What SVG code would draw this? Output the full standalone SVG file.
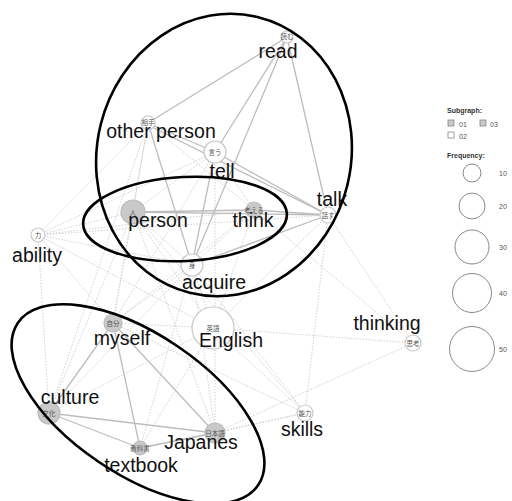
<svg xmlns="http://www.w3.org/2000/svg" width="512" height="501" viewBox="0 0 512 501">
<style>
.s{stroke:#bdbdbd;stroke-width:1.3;fill:none}
.d{stroke:#d2d2d2;stroke-width:1;stroke-dasharray:1.5 1.5;fill:none}
.nw{fill:#fff;stroke:#c8c8c8;stroke-width:1.2}
.ng{fill:#c9c9c9;stroke:#bcbcbc;stroke-width:1.2}
.jp{font-family:"Noto Sans CJK JP",sans-serif;font-size:6.5px;fill:#555;text-anchor:middle}
.lb{font-family:"Liberation Sans",Arial,sans-serif;font-size:19.5px;fill:#111;text-anchor:middle}
.lg{font-family:"Liberation Sans",Arial,sans-serif;font-size:7px;fill:#555}
.lgb{font-family:"Liberation Sans",Arial,sans-serif;font-size:7px;font-weight:bold;fill:#333}
.lc{fill:#fff;stroke:#888;stroke-width:1}
.el{fill:none;stroke:#000;stroke-width:2.6}
</style>
<rect width="512" height="501" fill="#fff"/>
<g id="connectors">
<line class="d" x1="38" y1="235" x2="148" y2="123"/>
<line class="d" x1="38" y1="235" x2="215" y2="152"/>
<line class="d" x1="38" y1="235" x2="133" y2="212"/>
<line class="d" x1="38" y1="235" x2="254" y2="210"/>
<line class="d" x1="38" y1="235" x2="328" y2="215"/>
<line class="d" x1="38" y1="235" x2="192" y2="265"/>
<line class="d" x1="38" y1="235" x2="213" y2="328"/>
<line class="d" x1="38" y1="235" x2="113" y2="323"/>
<line class="d" x1="38" y1="235" x2="49" y2="413"/>
<line class="d" x1="213" y1="328" x2="192" y2="265"/>
<line class="d" x1="213" y1="328" x2="133" y2="212"/>
<line class="d" x1="213" y1="328" x2="254" y2="210"/>
<line class="d" x1="213" y1="328" x2="328" y2="215"/>
<line class="d" x1="215" y1="152" x2="215" y2="433"/>
<line class="d" x1="213" y1="328" x2="305" y2="413"/>
<line class="d" x1="213" y1="328" x2="413" y2="343"/>
<line class="d" x1="213" y1="328" x2="113" y2="323"/>
<line class="d" x1="213" y1="328" x2="49" y2="413"/>
<line class="d" x1="213" y1="328" x2="140" y2="448"/>
<line class="d" x1="413" y1="343" x2="254" y2="210"/>
<line class="d" x1="413" y1="343" x2="328" y2="215"/>
<line class="d" x1="413" y1="343" x2="215" y2="433"/>
<line class="d" x1="305" y1="413" x2="192" y2="265"/>
<line class="d" x1="305" y1="413" x2="215" y2="433"/>
<line class="d" x1="305" y1="413" x2="113" y2="323"/>
<line class="d" x1="305" y1="413" x2="328" y2="215"/>
<line class="d" x1="305" y1="413" x2="133" y2="212"/>
<line class="d" x1="305" y1="413" x2="140" y2="448"/>
<line class="d" x1="113" y1="323" x2="192" y2="265"/>
<line class="d" x1="113" y1="323" x2="133" y2="212"/>
<line class="d" x1="113" y1="323" x2="215" y2="152"/>
<line class="d" x1="113" y1="323" x2="148" y2="123"/>
<line class="d" x1="113" y1="323" x2="254" y2="210"/>
<line class="d" x1="49" y1="413" x2="133" y2="212"/>
<line class="d" x1="49" y1="413" x2="192" y2="265"/>
<line class="d" x1="49" y1="413" x2="148" y2="123"/>
<line class="d" x1="140" y1="448" x2="192" y2="265"/>
<line class="d" x1="215" y1="433" x2="192" y2="265"/>
<line class="d" x1="215" y1="433" x2="133" y2="212"/>
<line class="d" x1="133" y1="212" x2="192" y2="265"/>
<line class="d" x1="133" y1="212" x2="215" y2="152"/>
<line class="d" x1="133" y1="212" x2="148" y2="123"/>
<line class="d" x1="148" y1="123" x2="254" y2="210"/>
<line class="d" x1="192" y1="265" x2="254" y2="210"/>
<line class="d" x1="215" y1="152" x2="254" y2="210"/>
<line class="s" x1="287" y1="37" x2="148" y2="123"/>
<line class="s" x1="287" y1="37" x2="215" y2="152"/>
<line class="s" x1="287" y1="37" x2="192" y2="265"/>
<line class="s" x1="287" y1="37" x2="328" y2="215"/>
<line class="s" x1="148" y1="123" x2="215" y2="152"/>
<line class="s" x1="148" y1="125" x2="328" y2="215"/>
<line class="s" x1="215" y1="152" x2="328" y2="215"/>
<line class="s" x1="148" y1="123" x2="192" y2="265"/>
<line class="s" x1="215" y1="152" x2="192" y2="265"/>
<line class="s" x1="133" y1="212" x2="254" y2="210"/>
<line class="s" x1="133" y1="212" x2="328" y2="215"/>
<line class="s" x1="254" y1="210" x2="328" y2="215"/>
<line class="s" x1="192" y1="265" x2="328" y2="215"/>
<line class="s" x1="113" y1="323" x2="49" y2="413"/>
<line class="s" x1="113" y1="323" x2="140" y2="448"/>
<line class="s" x1="113" y1="323" x2="215" y2="433"/>
<line class="s" x1="49" y1="413" x2="140" y2="448"/>
<line class="s" x1="49" y1="413" x2="215" y2="433"/>
<line class="s" x1="140" y1="448" x2="215" y2="433"/>
</g>
<g id="n-read"><circle class="nw" cx="287" cy="37" r="6"/><text class="jp" x="287" y="39">読む</text><text class="lb" x="278" y="58">read</text></g>
<g id="n-other"><circle class="nw" cx="148" cy="123" r="7"/><text class="jp" x="148" y="125">相手</text><text class="lb" x="161" y="138">other person</text></g>
<g id="n-tell"><circle class="nw" cx="215" cy="152" r="11"/><text class="jp" x="215" y="155">言う</text><text class="lb" x="222" y="178">tell</text></g>
<g id="n-person"><circle class="ng" cx="133" cy="212" r="12"/><text class="jp" x="133" y="215">人</text><text class="lb" x="158" y="227">person</text></g>
<g id="n-think"><circle class="ng" cx="254" cy="210" r="8"/><text class="jp" x="254" y="213">考える</text><text class="lb" x="253" y="227">think</text></g>
<g id="n-talk"><circle class="nw" cx="328" cy="215" r="8"/><text class="jp" x="328" y="218">話す</text><text class="lb" x="332" y="206">talk</text></g>
<g id="n-ability"><circle class="nw" cx="38" cy="235" r="7"/><text class="jp" x="38" y="238">力</text><text class="lb" x="37" y="262">ability</text></g>
<g id="n-acquire"><circle class="nw" cx="192" cy="265" r="11"/><text class="jp" x="192" y="268">身</text><text class="lb" x="214" y="289">acquire</text></g>
<g id="n-myself"><circle class="ng" cx="113" cy="323" r="9"/><text class="jp" x="113" y="326">自分</text><text class="lb" x="122" y="345">myself</text></g>
<g id="n-english"><circle class="nw" cx="213" cy="328" r="21"/><text class="jp" x="213" y="331">英語</text><text class="lb" x="231" y="347">English</text></g>
<g id="n-thinking"><circle class="nw" cx="413" cy="343" r="8"/><text class="jp" x="413" y="346">思考</text><text class="lb" x="387" y="330">thinking</text></g>
<g id="n-culture"><circle class="ng" cx="49" cy="413" r="11"/><text class="jp" x="49" y="416">文化</text><text class="lb" x="70" y="404">culture</text></g>
<g id="n-textbook"><circle class="ng" cx="140" cy="448" r="7"/><text class="jp" x="140" y="451">教科書</text><text class="lb" x="141" y="472">textbook</text></g>
<g id="n-japanes"><circle class="ng" cx="215" cy="433" r="10"/><text class="jp" x="215" y="436">日本語</text><text class="lb" x="201" y="449">Japanes</text></g>
<g id="n-skills"><circle class="nw" cx="305" cy="413" r="8"/><text class="jp" x="305" y="416">能力</text><text class="lb" x="302" y="436">skills</text></g>
<g id="groups">
<ellipse class="el" cx="224" cy="155" rx="127" ry="142" transform="rotate(14 224 155)"/>
<ellipse class="el" cx="185" cy="219" rx="102" ry="42" transform="rotate(-3 185 219)"/>
<ellipse class="el" cx="138" cy="404" rx="145" ry="70" transform="rotate(34 138 404)"/>
</g>
<g id="legend">
<text class="lgb" x="447" y="113">Subgraph:</text>
<rect x="448" y="120" width="6" height="6" fill="#c9c9c9" stroke="#888" stroke-width="0.8"/>
<text class="lg" x="459" y="127">01</text>
<rect x="480" y="120" width="6" height="6" fill="#c9c9c9" stroke="#888" stroke-width="0.8"/>
<text class="lg" x="490" y="127">03</text>
<rect x="448" y="132" width="6" height="6" fill="#fff" stroke="#888" stroke-width="0.8"/>
<text class="lg" x="459" y="139">02</text>
<text class="lgb" x="447" y="158">Frequency:</text>
<circle class="lc" cx="472" cy="173" r="9"/><text class="lg" x="499" y="176">10</text>
<circle class="lc" cx="472" cy="206" r="13"/><text class="lg" x="499" y="209">20</text>
<circle class="lc" cx="472" cy="247" r="17"/><text class="lg" x="499" y="250">30</text>
<circle class="lc" cx="472" cy="293" r="19.5"/><text class="lg" x="499" y="296">40</text>
<circle class="lc" cx="472" cy="349" r="22.5"/><text class="lg" x="499" y="352">50</text>
</g>
</svg>
